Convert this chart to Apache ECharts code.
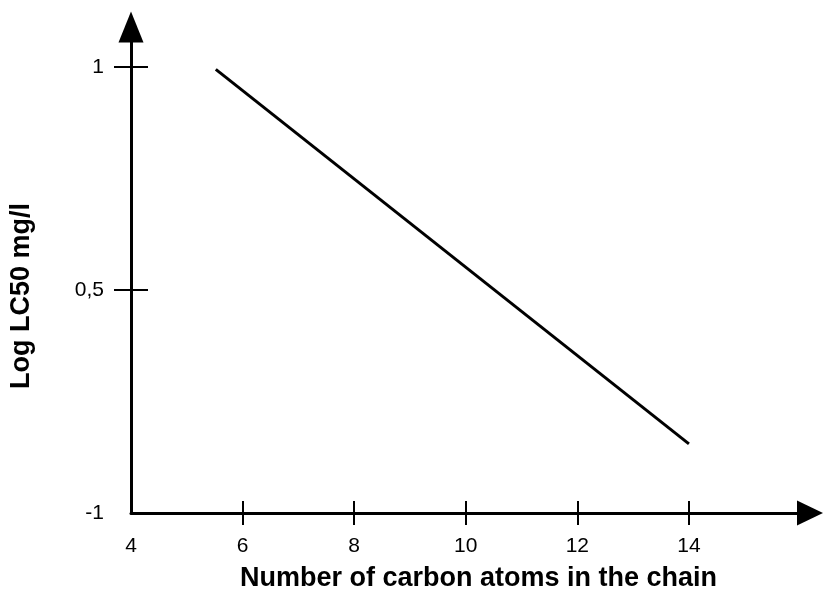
<!DOCTYPE html>
<html>
<head>
<meta charset="utf-8">
<script src="https://cdn.jsdelivr.net/npm/echarts@6/dist/echarts.min.js"></script>
<style>
    html, body { margin: 0; padding: 0; background: #fff; }
    #main { width: 823px; height: 594px; }
</style>
</head>
<body>
<div id="main"></div>
<script>
// x ticks / labels
var xLabelValues = [4, 6, 8, 10, 12, 14];
var xTickValues = [6, 8, 10, 12, 14];

// y axis is drawn in "slot" units: 0, 1, 2 carry the printed labels
var yLabelValues = [0, 1, 2];
var yTickValues = [1, 2];
var yTickLabels = ['-1', '0,5', '1'];

// the regression line (x = carbon atoms, y = slot position)
var carbonAtoms = [5.52, 14];
var logLC50Pos = [1.99, 0.31];

var chart = echarts.init(document.getElementById('main'));

var font = 'Liberation Sans, Arial, sans-serif';

var lineData = carbonAtoms.map(function (x, i) { return [x, logLC50Pos[i]]; });

var option = {
    animation: false,
    grid: { left: 131, right: 13, top: 27, bottom: 81, outerBoundsMode: 'none' },
    xAxis: [{
        type: 'value',
        min: 4,
        max: 16.17,
        name: 'Number of carbon atoms in the chain',
        nameLocation: 'middle',
        nameGap: 52,
        nameTextStyle: { fontFamily: font, fontSize: 27, fontWeight: 'bold', color: '#000', padding: [0, 0, 0, 16] },
        splitLine: { show: false },
        axisLine: {
            lineStyle: { color: '#000', width: 3 },
            symbol: ['none', 'triangle'],
            symbolSize: [25, 26]
        },
        axisTick: { customValues: xTickValues, length: 12, lineStyle: { color: '#000', width: 2 } },
        axisLabel: { customValues: xLabelValues, margin: 23, fontFamily: font, fontSize: 21, color: '#000' }
    }, {
        // second axis only for the inner half of the crossing ticks
        type: 'value',
        position: 'bottom',
        min: 4,
        max: 16.17,
        splitLine: { show: false },
        axisLine: { show: false },
        axisTick: { customValues: xTickValues, inside: true, length: 12, lineStyle: { color: '#000', width: 2 } },
        axisLabel: { show: false }
    }],
    yAxis: [{
        type: 'value',
        min: 0,
        max: 2.18,
        name: 'Log LC50 mg/l',
        nameLocation: 'middle',
        nameGap: 96,
        nameTextStyle: { fontFamily: font, fontSize: 27, fontWeight: 'bold', color: '#000', padding: [0, 52, 0, 0] },
        splitLine: { show: false },
        axisLine: {
            lineStyle: { color: '#000', width: 3 },
            symbol: ['none', 'triangle'],
            symbolSize: [25, 31]
        },
        axisTick: { customValues: yTickValues, length: 17, lineStyle: { color: '#000', width: 2 } },
        axisLabel: {
            customValues: yLabelValues,
            margin: 27,
            fontFamily: font,
            fontSize: 21,
            color: '#000',
            formatter: function (v) { return yTickLabels[Math.round(v)]; }
        }
    }, {
        type: 'value',
        position: 'left',
        min: 0,
        max: 2.18,
        splitLine: { show: false },
        axisLine: { show: false },
        axisTick: { customValues: yTickValues, inside: true, length: 17, lineStyle: { color: '#000', width: 2 } },
        axisLabel: { show: false }
    }],
    series: [{
        type: 'line',
        data: lineData,
        symbol: 'none',
        lineStyle: { color: '#000', width: 3 }
    }]
};

chart.setOption(option);
</script>
</body>
</html>
